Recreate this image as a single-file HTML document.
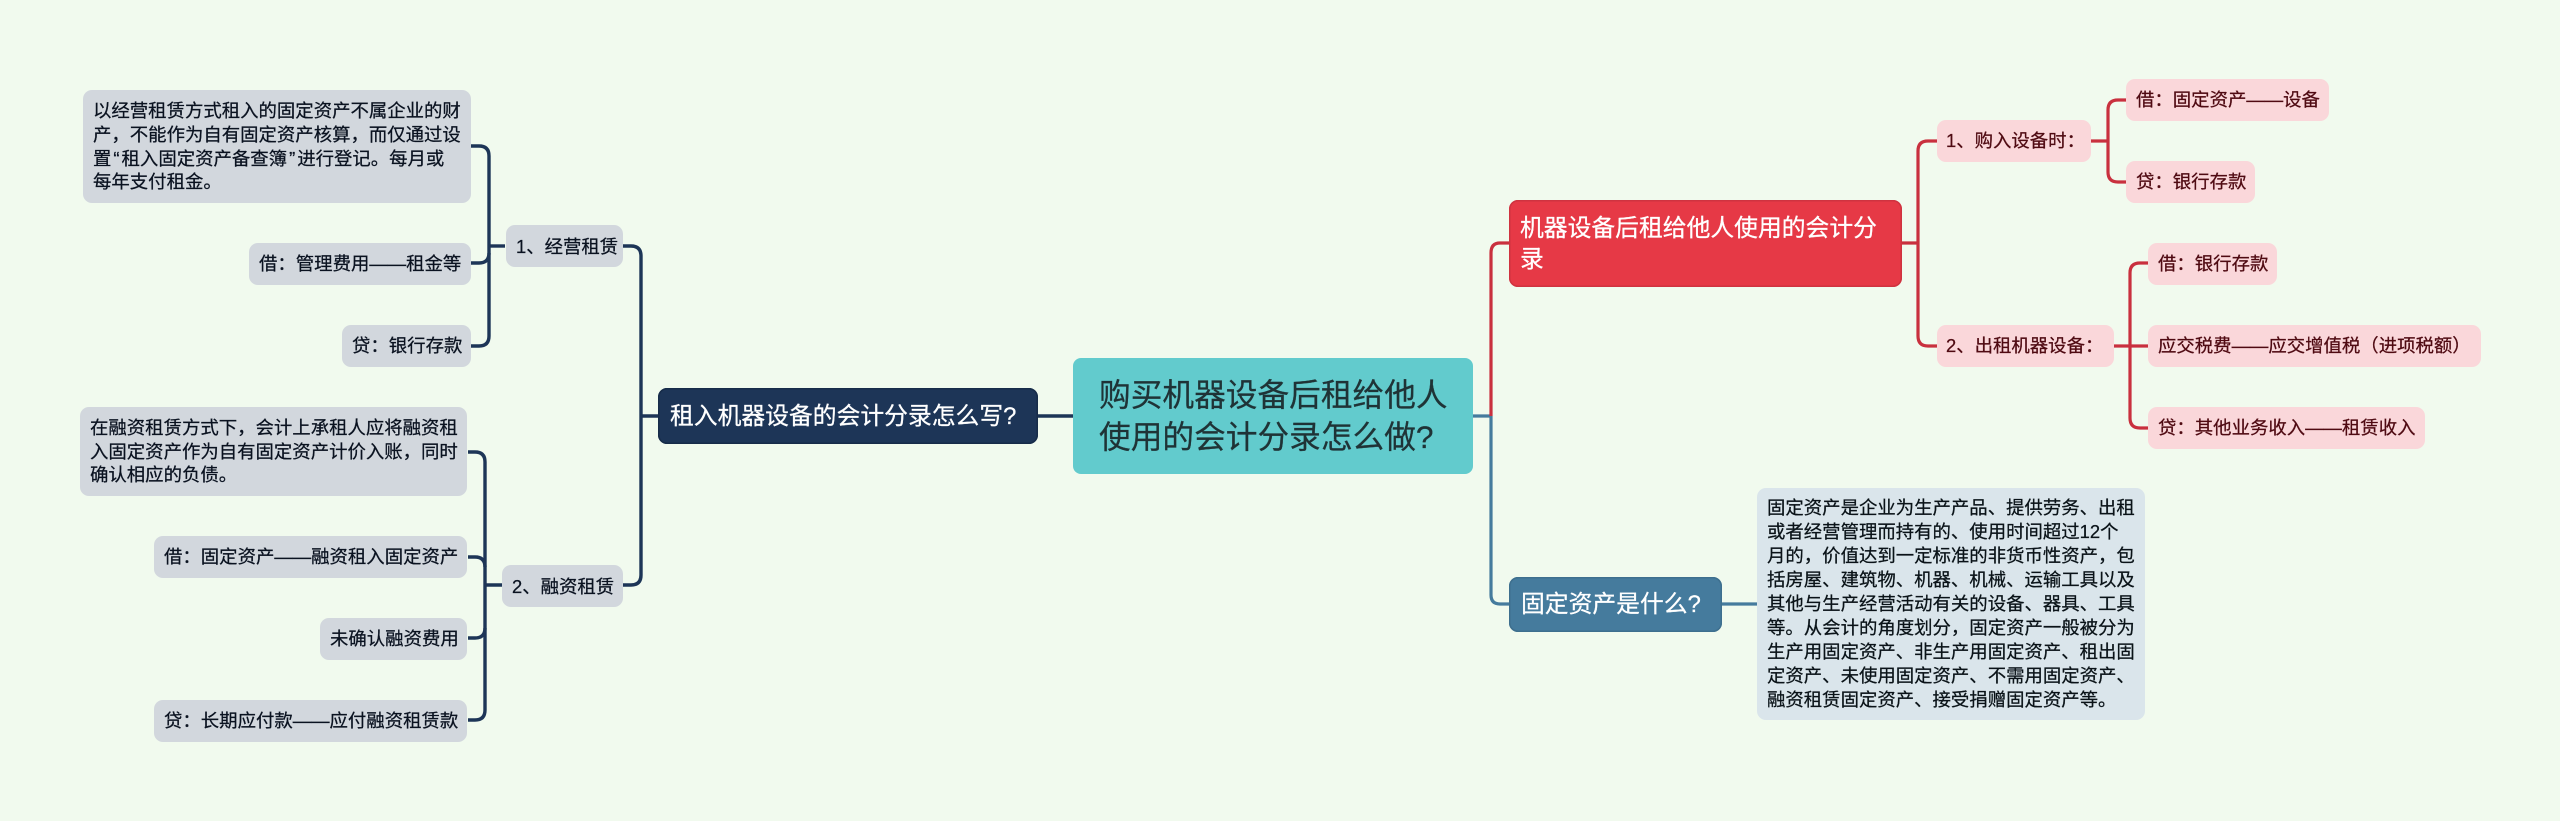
<!DOCTYPE html>
<html lang="zh-CN">
<head>
<meta charset="utf-8">
<title>购买机器设备后租给他人使用的会计分录怎么做？</title>
<style>
html,body{margin:0;padding:0;width:2560px;height:821px;overflow:hidden;background:#f1faee}
body{position:relative;font-family:"Liberation Sans","Noto Sans CJK SC",sans-serif}
svg{position:absolute;left:0;top:0}
.n{position:absolute;box-sizing:border-box;border-radius:9px;white-space:nowrap;display:flex;align-items:center;font-size:18.4px;line-height:23.9px;-webkit-text-stroke:.25px currentColor}
.n span{display:block}
.n i{font-style:normal;padding:0 2px}
.l{background:#d2d7dd;color:#0a1220}
.r{background:#fad7da;color:#4f0a12}
.b{background:#dae5eb;color:#0a1318}
.m{font-size:23.8px;line-height:31px;color:#fff}
</style>
</head>
<body>
<svg width="2560" height="821" viewBox="0 0 2560 821" fill="none" stroke-linecap="butt">
<g stroke="#1d3557" stroke-width="3.4">
<path d="M1073 416H1038"/>
<path d="M658 416H641"/>
<path d="M623 246H631Q641 246 641 256V575Q641 585 631 585H623"/>
<path d="M505 246H489"/>
<path d="M471 146H479Q489 146 489 156V336Q489 346 479 346H471"/>
<path d="M471 263H479Q489 263 489 253"/>
<path d="M502 585H485"/>
<path d="M468 452H475Q485 452 485 462V710Q485 720 475 720H468"/>
<path d="M468 557H475Q485 557 485 567"/>
<path d="M468 638H475Q485 638 485 628"/>
</g>
<g stroke="#457b9d" stroke-width="3.2">
<path d="M1473 416H1491"/>
<path d="M1491 416V595Q1491 604 1500 604H1509"/>
<path d="M1721 604H1757"/>
</g>
<g stroke="#c9303e" stroke-width="3.2">
<path d="M1491 416V253Q1491 243 1500 243H1509"/>
<path d="M1901 243H1918"/>
<path d="M1937 141H1928Q1918 141 1918 151V336Q1918 346 1928 346H1937"/>
<path d="M2091 141H2108"/>
<path d="M2126 100H2118Q2108 100 2108 110V172Q2108 182 2118 182H2126"/>
<path d="M2113 346H2148"/>
<path d="M2148 263H2140Q2130 263 2130 273V418Q2130 428 2140 428H2148"/>
</g>
</svg>

<div class="n" style="left:1073px;top:358px;width:400px;height:116px;padding-left:26px;background:#62cbcd;color:#1f3336;font-size:31.7px;line-height:42px;border-radius:8px"><span>购买机器设备后租给他人<br>使用的会计分录怎么做?</span></div>

<div class="n m" style="left:658px;top:388px;width:380px;height:56px;padding-left:12px;background:#1d3557;box-shadow:inset 0 0 0 1.5px #172c49"><span>租入机器设备的会计分录怎么写?</span></div>
<div class="n m" style="left:1509px;top:200px;width:393px;height:87px;padding-left:11px;background:#e63946;box-shadow:inset 0 0 0 1.5px #cf3340"><span>机器设备后租给他人使用的会计分<br>录</span></div>
<div class="n m" style="left:1509px;top:577px;width:213px;height:55px;padding-left:12px;background:#457b9d;box-shadow:inset 0 0 0 1.5px #3e6f8e"><span>固定资产是什么?</span></div>

<div class="n l" style="left:506px;top:225px;width:117px;height:42px;padding-left:10px"><span style="position:relative;top:1px">1、经营租赁</span></div>
<div class="n l" style="left:502px;top:565px;width:121px;height:42px;padding-left:10px"><span style="position:relative;top:1px">2、融资租赁</span></div>

<div class="n l" style="left:83px;top:90px;width:388px;height:113px;padding-left:10px"><span>以经营租赁方式租入的固定资产不属企业的财<br>产，不能作为自有固定资产核算，而仅通过设<br>置<i>“</i>租入固定资产备查簿<i>”</i>进行登记。每月或<br>每年支付租金。</span></div>
<div class="n l" style="left:249px;top:243px;width:222px;height:42px;padding-left:10px"><span>借：管理费用——租金等</span></div>
<div class="n l" style="left:342px;top:325px;width:129px;height:42px;padding-left:10px"><span>贷：银行存款</span></div>

<div class="n l" style="left:80px;top:407px;width:387px;height:89px;padding-left:10px"><span>在融资租赁方式下，会计上承租人应将融资租<br>入固定资产作为自有固定资产计价入账，同时<br>确认相应的负债。</span></div>
<div class="n l" style="left:154px;top:536px;width:313px;height:42px;padding-left:10px"><span>借：固定资产——融资租入固定资产</span></div>
<div class="n l" style="left:320px;top:618px;width:147px;height:42px;padding-left:10px"><span>未确认融资费用</span></div>
<div class="n l" style="left:154px;top:700px;width:313px;height:42px;padding-left:10px"><span>贷：长期应付款——应付融资租赁款</span></div>

<div class="n r" style="left:1937px;top:120px;width:154px;height:42px;padding-left:9px"><span>1、购入设备时：</span></div>
<div class="n r" style="left:1937px;top:325px;width:177px;height:42px;padding-left:9px"><span>2、出租机器设备：</span></div>
<div class="n r" style="left:2126px;top:79px;width:203px;height:42px;padding-left:10px"><span>借：固定资产——设备</span></div>
<div class="n r" style="left:2126px;top:161px;width:129px;height:42px;padding-left:10px"><span>贷：银行存款</span></div>
<div class="n r" style="left:2148px;top:243px;width:129px;height:42px;padding-left:10px"><span>借：银行存款</span></div>
<div class="n r" style="left:2148px;top:325px;width:333px;height:42px;padding-left:10px"><span>应交税费——应交增值税（进项税额）</span></div>
<div class="n r" style="left:2148px;top:407px;width:277px;height:42px;padding-left:10px"><span>贷：其他业务收入——租赁收入</span></div>

<div class="n b" style="left:1757px;top:488px;width:388px;height:232px;padding-left:10px"><span>固定资产是企业为生产产品、提供劳务、出租<br>或者经营管理而持有的、使用时间超过12个<br>月的，价值达到一定标准的非货币性资产，包<br>括房屋、建筑物、机器、机械、运输工具以及<br>其他与生产经营活动有关的设备、器具、工具<br>等。从会计的角度划分，固定资产一般被分为<br>生产用固定资产、非生产用固定资产、租出固<br>定资产、未使用固定资产、不需用固定资产、<br>融资租赁固定资产、接受捐赠固定资产等。</span></div>
</body>
</html>
